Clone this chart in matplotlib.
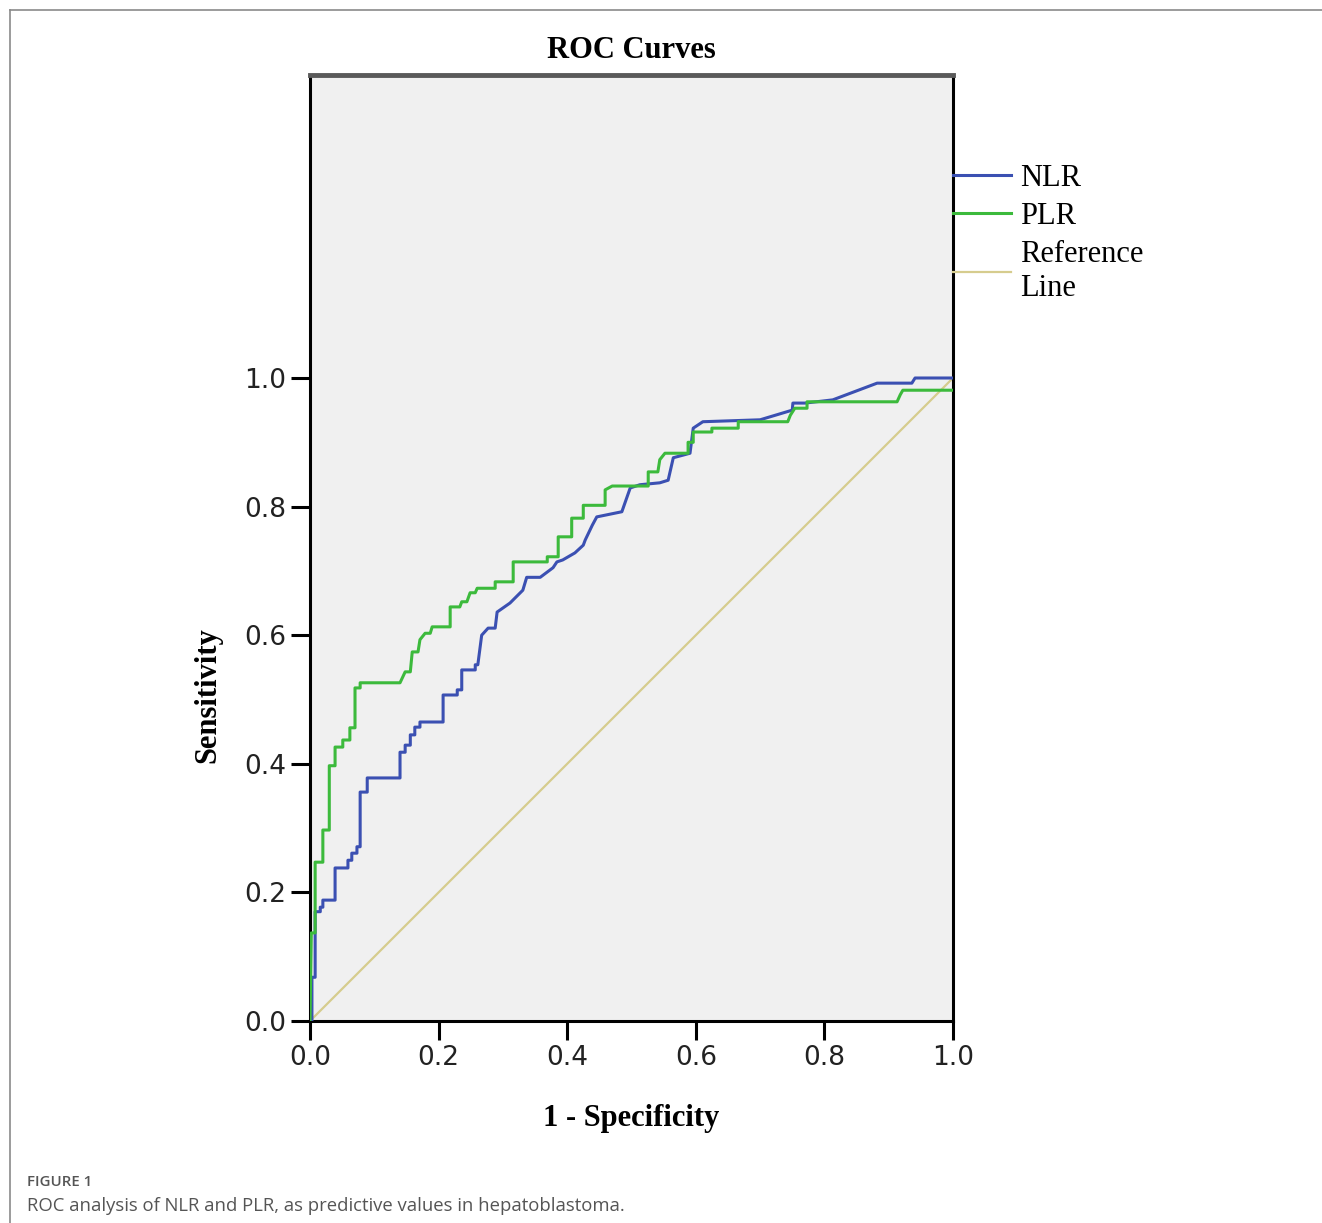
import matplotlib.pyplot as plt
from matplotlib.lines import Line2D

# ROC points (1 - specificity, sensitivity)
nlr_fpr = [0, 0.003, 0.003, 0.008, 0.008, 0.016, 0.016, 0.020, 0.020, 0.039, 0.039,
           0.059, 0.059, 0.065, 0.065, 0.073, 0.073, 0.078, 0.078, 0.089, 0.089,
           0.140, 0.140, 0.148, 0.148, 0.156, 0.156, 0.163, 0.163, 0.171, 0.171,
           0.207, 0.207, 0.229, 0.229, 0.236, 0.236, 0.257, 0.257, 0.261, 0.264,
           0.267, 0.277, 0.288, 0.291, 0.311, 0.331, 0.337, 0.358, 0.378, 0.384,
           0.393, 0.412, 0.425, 0.428, 0.439, 0.446, 0.485, 0.498, 0.513, 0.544,
           0.557, 0.565, 0.580, 0.591, 0.596, 0.611, 0.700, 0.750, 0.751, 0.770,
           0.813, 0.882, 0.936, 0.941, 1.0]
nlr_tpr = [0, 0, 0.068, 0.068, 0.170, 0.170, 0.177, 0.177, 0.188, 0.188, 0.238,
           0.238, 0.250, 0.250, 0.261, 0.261, 0.271, 0.271, 0.356, 0.356, 0.378,
           0.378, 0.418, 0.418, 0.429, 0.429, 0.445, 0.445, 0.457, 0.457, 0.465,
           0.465, 0.507, 0.507, 0.515, 0.515, 0.546, 0.546, 0.554, 0.554, 0.577,
           0.600, 0.611, 0.611, 0.636, 0.650, 0.670, 0.690, 0.690, 0.705, 0.714,
           0.717, 0.728, 0.740, 0.748, 0.771, 0.784, 0.792, 0.829, 0.834, 0.837,
           0.841, 0.876, 0.880, 0.883, 0.922, 0.932, 0.935, 0.950, 0.961, 0.961,
           0.966, 0.992, 0.992, 1.0, 1.0]

plr_fpr = [0, 0.002, 0.008, 0.008, 0.020, 0.020, 0.030, 0.030, 0.039, 0.039, 0.051,
           0.051, 0.062, 0.062, 0.070, 0.070, 0.078, 0.078, 0.140, 0.148, 0.156,
           0.159, 0.168, 0.171, 0.179, 0.187, 0.190, 0.218, 0.218, 0.233, 0.236,
           0.244, 0.249, 0.257, 0.260, 0.288, 0.288, 0.316, 0.316, 0.369, 0.369,
           0.386, 0.386, 0.407, 0.407, 0.425, 0.425, 0.459, 0.459, 0.470, 0.526,
           0.526, 0.541, 0.544, 0.552, 0.588, 0.588, 0.596, 0.596, 0.625, 0.625,
           0.666, 0.666, 0.743, 0.747, 0.754, 0.773, 0.773, 0.913, 0.918, 0.922, 1.0]
plr_tpr = [0, 0.137, 0.137, 0.247, 0.247, 0.297, 0.297, 0.397, 0.397, 0.426, 0.426,
           0.437, 0.437, 0.456, 0.456, 0.518, 0.518, 0.526, 0.526, 0.543, 0.543,
           0.574, 0.574, 0.593, 0.603, 0.603, 0.613, 0.613, 0.644, 0.644, 0.652,
           0.652, 0.666, 0.666, 0.673, 0.673, 0.683, 0.683, 0.714, 0.714, 0.722,
           0.722, 0.753, 0.753, 0.782, 0.782, 0.802, 0.802, 0.826, 0.832, 0.832,
           0.854, 0.854, 0.873, 0.883, 0.883, 0.900, 0.900, 0.916, 0.916, 0.922,
           0.922, 0.932, 0.932, 0.942, 0.953, 0.953, 0.963, 0.963, 0.974, 0.981, 0.981]

ref_x = [0, 1]
ref_y = [0, 1]

ticks = [0.0, 0.2, 0.4, 0.6, 0.8, 1.0]

W, H = 1322, 1223
fig = plt.figure(figsize=(W / 100, H / 100), dpi=100)
fig.patch.set_facecolor('white')

# axes box in pixels: x 310..953, y 75..1021
ax = fig.add_axes([310 / W, (H - 1021) / H, 643 / W, 946 / H])
ax.set_facecolor('#f0f0f0')

ax.plot(nlr_fpr, nlr_tpr, color='#3b50b2', lw=2.2, label='NLR', zorder=3)
ax.plot(plr_fpr, plr_tpr, color='#3cba3c', lw=2.2, label='PLR', zorder=3)
ax.plot(ref_x, ref_y, color='#d6cc8e', lw=1.6, label='Reference\nLine', zorder=2)

ax.set_xlim(0, 1)
ax.set_ylim(0, 946 / 643)
ax.set_xticks(ticks)
ax.set_yticks(ticks)
ax.set_xticklabels(['%.1f' % t for t in ticks])
ax.set_yticklabels(['%.1f' % t for t in ticks])
ax.tick_params(direction='out', length=14, width=2.2, color='black',
               labelsize=19, pad=3)
for lab in ax.get_xticklabels() + ax.get_yticklabels():
    lab.set_fontfamily('DejaVu Sans')
    lab.set_color('#222222')

for s in ['left', 'bottom', 'right']:
    ax.spines[s].set_linewidth(2.2)
    ax.spines[s].set_color('black')
ax.spines['top'].set_linewidth(3.5)
ax.spines['top'].set_color('#5a5a5a')

ax.set_title('ROC Curves', fontfamily='Liberation Serif', fontweight='bold',
             fontsize=22, pad=12)
ax.set_xlabel('1 - Specificity', fontfamily='Liberation Serif', fontweight='bold',
              fontsize=22)
ax.xaxis.set_label_coords(0.5, -(1104 - 1021) / 946)
ax.set_ylabel('Sensitivity', fontfamily='Liberation Serif', fontweight='bold',
              fontsize=22)
ax.yaxis.set_label_coords(-(310 - 222) / 643, 0.345)

ax.legend(loc='upper left', bbox_to_anchor=(1.0, 1 - (164 - 75) / 946),
          frameon=False, borderaxespad=0, borderpad=0, handlelength=1.9,
          handletextpad=0.3, labelspacing=0.3,
          prop={'family': 'Liberation Serif', 'size': 22})

# outer frame of the figure panel
fig.add_artist(Line2D([10 / W, 1], [1 - 10 / H, 1 - 10 / H], color='#8a8a8a', lw=1.2))
fig.add_artist(Line2D([10 / W, 10 / W], [0, 1 - 10 / H], color='#8a8a8a', lw=1.2))

fig.text(27 / W, 1 - 1182 / H, 'FIGURE 1', fontfamily='Open Sans', fontsize=10.8,
         fontweight='semibold', color='#555555', va='center', ha='left')
fig.text(27 / W, 1 - 1206 / H,
         'ROC analysis of NLR and PLR, as predictive values in hepatoblastoma.',
         fontfamily='Open Sans', fontsize=13.3, color='#555555', va='center', ha='left')

fig.savefig('out.png', dpi=100)
